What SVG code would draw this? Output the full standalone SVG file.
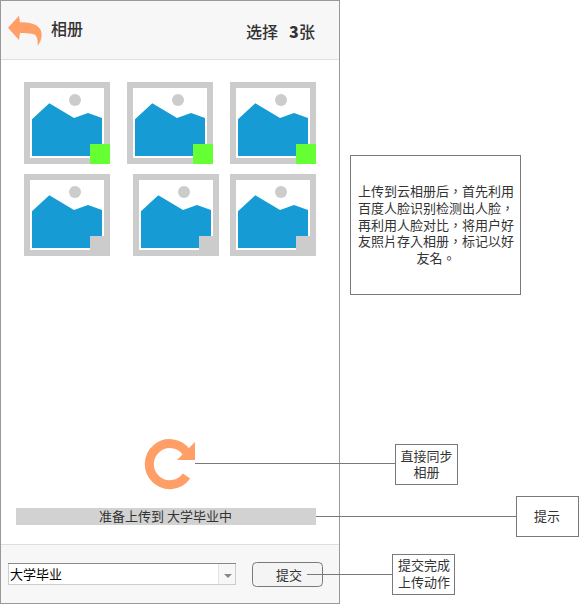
<svg xmlns="http://www.w3.org/2000/svg" width="579" height="604" viewBox="0 0 579 604">
<style>
text{font-family:"Noto Sans CJK SC","Liberation Sans",sans-serif;font-size:13px;fill:#333;text-anchor:middle}
.bar{fill:#f7f7f7}
.sep{stroke:#dedede;stroke-width:1;fill:none}
.note{fill:#fff;stroke:#797979;stroke-width:1}
.conn{stroke:#797979;stroke-width:1;fill:none}
.frame{fill:#ccc}
.inner{fill:#fff}
.sky{fill:#169bd5}
.sun{fill:#ccc}
.on{fill:#66ff33}
.off{fill:#ccc}
.h{font-size:16px;text-anchor:start;font-weight:500}
.acc{fill:#ff9e66}
.tc{font-family:"Noto Sans CJK TC","Noto Sans CJK SC",sans-serif}
</style>
<defs>
<g id="pic">
<rect class="frame" width="86" height="82"/>
<rect class="inner" x="6" y="6" width="74" height="70"/>
<circle class="sun" cx="51" cy="18" r="6"/>
<path class="sky" d="M8 37.300 L25.300 21.300 L50 36 L64 31 L78 36 V74 H8Z"/>
</g>
</defs>
<rect id="screen" x="0.500" y="0.500" width="339" height="603" fill="#fff" stroke="#999"/>
<g id="header">
<rect class="bar" x="1" y="1" width="338" height="58"/>
<line class="sep" x1="1" y1="59.500" x2="339" y2="59.500"/>
<path class="acc" d="M8 27.700 L19 15.700 L20 22.300 C33 22 42 26 41.700 35 C41.500 40 39.500 43 37.700 46 C38 39 37 35 33 34 C29 33 24 33 20 33 L19 40Z"/>
<text class="h" x="51" y="35">相册</text>
<text class="h" x="246" y="38">选择</text>
<text class="h" x="289" y="38" style="font-weight:900">3</text>
<text class="h" x="299" y="38">张</text>
</g>
<g id="photo1"><use href="#pic" x="24" y="82"/><rect class="on" x="90" y="144" width="20" height="20"/></g>
<g id="photo2"><use href="#pic" x="127" y="82"/><rect class="on" x="193" y="144" width="20" height="20"/></g>
<g id="photo3"><use href="#pic" x="230" y="82"/><rect class="on" x="296" y="144" width="20" height="20"/></g>
<g id="photo4"><use href="#pic" x="24" y="174"/><rect class="off" x="90" y="236" width="20" height="20"/></g>
<g id="photo5"><use href="#pic" x="133" y="174"/><rect class="off" x="199" y="236" width="20" height="20"/></g>
<g id="photo6"><use href="#pic" x="230" y="174"/><rect class="off" x="296" y="236" width="20" height="20"/></g>
<g id="sync">
<path d="M187 453 A20.500 20.500 0 1 0 186.500 476" fill="none" stroke="#ff9e66" stroke-width="9"/>
<path class="acc" d="M195 442 V460 H177 Z"/>
</g>
<g id="progress">
<rect x="16" y="508" width="300" height="17" fill="#d2d2d2"/>
<text x="165.500" y="521">准备上传到 大学毕业中</text>
</g>
<g id="footer">
<rect class="bar" x="1" y="545" width="338" height="58"/>
<line class="sep" x1="1" y1="544.500" x2="339" y2="544.500"/>
</g>
<g id="select">
<rect x="8.500" y="563.500" width="227" height="21" fill="#fff" stroke="#ccc"/>
<line x1="8" y1="563.500" x2="236" y2="563.500" stroke="#888"/>
<rect x="218" y="564" width="17" height="20" fill="#f7f7f7"/>
<line x1="218.500" y1="564" x2="218.500" y2="584" stroke="#e4e4e4"/>
<path d="M224 574 H232 L228 578Z" fill="#888"/>
<text x="10" y="579" style="text-anchor:start;fill:#000">大学毕业</text>
</g>
<g id="submit">
<rect x="252.500" y="562.500" width="70" height="24" rx="4" fill="#f4f4f4" stroke="#797979"/>
<text x="289" y="580">提交</text>
</g>
<g id="connectors">
<line class="conn" x1="195" y1="463.500" x2="395" y2="463.500"/>
<line class="conn" x1="316" y1="516.500" x2="516" y2="516.500"/>
<line class="conn" x1="307" y1="574.500" x2="393" y2="574.500"/>
</g>
<g id="noteMain">
<rect class="note" x="350.500" y="155.500" width="170" height="139"/>
<text class="tc"><tspan x="436" y="196">上传到云相册后，首先利用</tspan><tspan x="436" y="213">百度人脸识别检测出人脸，</tspan><tspan x="436" y="230">再利用人脸对比，将用户好</tspan><tspan x="436" y="246">友照片存入相册，标记以好</tspan><tspan x="436" y="263">友名。</tspan></text>
</g>
<g id="noteSync">
<rect class="note" x="395.500" y="444.500" width="62" height="40"/>
<text><tspan x="426.500" y="461">直接同步</tspan><tspan x="426.500" y="477">相册</tspan></text>
</g>
<g id="noteHint">
<rect class="note" x="516.500" y="496.500" width="62" height="40"/>
<text x="547" y="521">提示</text>
</g>
<g id="noteSubmit">
<rect class="note" x="392.500" y="554.500" width="62" height="40"/>
<text><tspan x="424" y="570">提交完成</tspan><tspan x="424" y="587">上传动作</tspan></text>
</g>
</svg>
